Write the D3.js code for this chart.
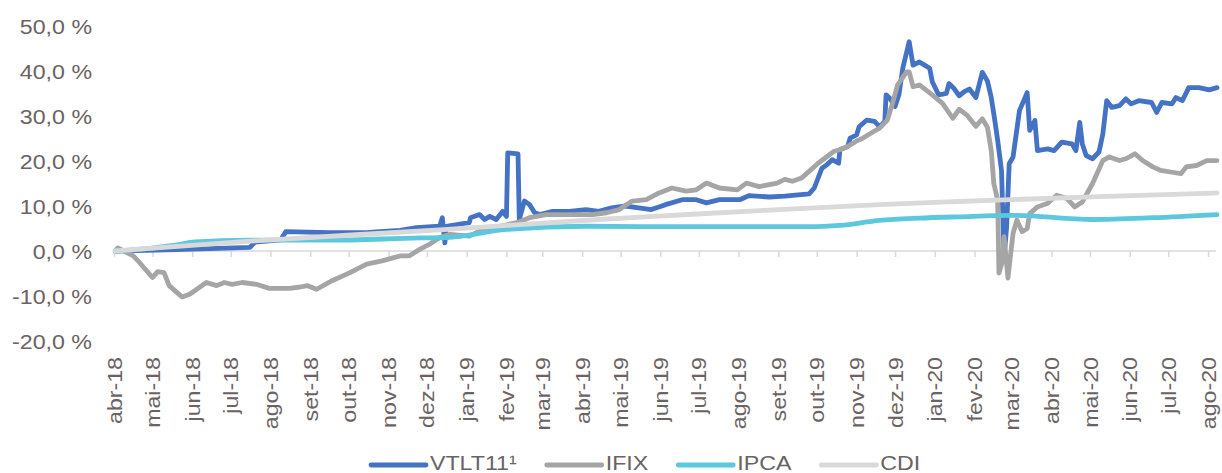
<!DOCTYPE html>
<html>
<head>
<meta charset="utf-8">
<script src="https://cdn.jsdelivr.net/npm/d3@7"></script>
<style>
  html, body { margin: 0; padding: 0; background: #ffffff; }
  svg { display: block; }
</style>
</head>
<body>
<svg id="chart" width="1222" height="473"></svg>
<script>
// ---------- DATA ----------
const seriesNames = ["VTLT11\u00b9", "IFIX", "IPCA", "CDI"];
const tickLabels = ["abr-18","mai-18","jun-18","jul-18","ago-18","set-18","out-18","nov-18","dez-18",
  "jan-19","fev-19","mar-19","abr-19","mai-19","jun-19","jul-19","ago-19","set-19","out-19","nov-19","dez-19",
  "jan-20","fev-20","mar-20","abr-20","mai-20","jun-20","jul-20","ago-20"];
const yTicks = [-20, -10, 0, 10, 20, 30, 40, 50];

const vtltDates = ["2018-04-02","2018-05-20","2018-07-16","2018-07-20","2018-08-09","2018-08-13","2018-09-16","2018-10-15","2018-10-25","2018-11-10","2018-11-23","2018-12-11","2018-12-13","2018-12-15","2018-12-16","2019-01-03","2019-01-04","2019-01-11","2019-01-15","2019-01-19","2019-01-24","2019-01-29","2019-02-01","2019-02-02","2019-02-10","2019-02-11","2019-02-15","2019-02-19","2019-02-23","2019-02-27","2019-03-09","2019-03-22","2019-04-04","2019-04-14","2019-04-24","2019-05-05","2019-05-15","2019-05-25","2019-06-05","2019-06-18","2019-06-29","2019-07-07","2019-07-17","2019-08-02","2019-08-09","2019-08-25","2019-09-06","2019-09-25","2019-09-29","2019-10-05","2019-10-09","2019-10-13","2019-10-18","2019-10-19","2019-10-25","2019-10-27","2019-11-01","2019-11-03","2019-11-09","2019-11-15","2019-11-19","2019-11-23","2019-11-24","2019-11-27","2019-12-01","2019-12-04","2019-12-07","2019-12-12","2019-12-15","2019-12-20","2019-12-24","2019-12-28","2019-12-30","2020-01-04","2020-01-10","2020-01-12","2020-01-16","2020-01-20","2020-01-24","2020-01-28","2020-02-02","2020-02-07","2020-02-11","2020-02-14","2020-02-17","2020-02-19","2020-02-22","2020-02-24","2020-02-26","2020-02-28","2020-03-02","2020-03-07","2020-03-13","2020-03-15","2020-03-19","2020-03-21","2020-03-29","2020-04-03","2020-04-09","2020-04-17","2020-04-20","2020-04-23","2020-04-25","2020-04-28","2020-05-03","2020-05-08","2020-05-11","2020-05-14","2020-05-18","2020-05-24","2020-05-29","2020-06-02","2020-06-08","2020-06-18","2020-06-22","2020-06-26","2020-07-04","2020-07-07","2020-07-12","2020-07-17","2020-07-25","2020-08-02","2020-08-08"];
const vtltValues = [0,0.3,0.8,2.0,2.5,4.3,4.1,4.1,4.3,4.6,5.2,5.5,7.4,1.8,5.5,6.3,7.4,8.1,7.0,7.7,7.0,8.8,7.7,21.8,21.6,7.0,11.1,10.3,8.5,8.1,8.8,8.8,9.2,8.8,9.6,10.0,9.6,9.2,10.3,11.4,11.4,10.7,11.4,11.4,12.3,12.0,12.2,12.7,14.0,18.4,19.2,20.3,19.5,22.5,23.2,25.1,25.8,27.6,29.1,28.8,27.6,28.8,34.7,33.9,32.1,34.7,40.6,46.5,41.3,42.0,41.3,40.6,37.6,34.7,35.0,37.2,36.1,34.5,35.4,36.0,34.1,39.7,37.8,34.1,28.6,24.6,17.9,-1.3,5.4,19.4,20.9,31.2,35.2,26.8,29.0,22.3,22.7,22.3,24.2,23.8,22.3,28.6,23.8,21.2,20.5,22.0,26.0,33.4,31.9,32.3,33.8,32.7,33.4,33.0,30.8,33.0,32.7,34.1,33.4,36.3,36.3,35.8,36.3];

const ifixDates = ["2018-04-02","2018-04-04","2018-04-16","2018-04-21","2018-05-01","2018-05-05","2018-05-10","2018-05-14","2018-05-24","2018-05-30","2018-06-12","2018-06-20","2018-06-26","2018-07-02","2018-07-10","2018-07-21","2018-07-31","2018-08-16","2018-08-24","2018-08-30","2018-09-06","2018-09-18","2018-10-02","2018-10-15","2018-10-27","2018-11-10","2018-11-17","2018-11-25","2018-12-03","2018-12-11","2018-12-19","2019-01-03","2019-01-11","2019-01-27","2019-02-09","2019-02-19","2019-03-04","2019-03-14","2019-03-30","2019-04-09","2019-04-20","2019-04-30","2019-05-10","2019-05-21","2019-05-31","2019-06-10","2019-06-21","2019-06-29","2019-07-07","2019-07-17","2019-07-31","2019-08-07","2019-08-17","2019-08-31","2019-09-06","2019-09-12","2019-09-19","2019-09-25","2019-10-02","2019-10-09","2019-10-14","2019-10-19","2019-10-25","2019-10-31","2019-11-06","2019-11-14","2019-11-19","2019-11-25","2019-11-29","2019-12-03","2019-12-10","2019-12-12","2019-12-15","2019-12-20","2019-12-30","2020-01-07","2020-01-15","2020-01-20","2020-01-26","2020-02-02","2020-02-07","2020-02-11","2020-02-14","2020-02-16","2020-02-19","2020-02-20","2020-02-23","2020-02-24","2020-02-27","2020-03-02","2020-03-05","2020-03-09","2020-03-13","2020-03-15","2020-03-21","2020-03-29","2020-04-05","2020-04-13","2020-04-19","2020-04-25","2020-05-03","2020-05-11","2020-05-16","2020-05-24","2020-05-29","2020-06-05","2020-06-11","2020-06-19","2020-06-25","2020-07-04","2020-07-11","2020-07-15","2020-07-23","2020-07-31","2020-08-08"];
const ifixValues = [0,0.7,-1.1,-2.6,-5.9,-4.6,-4.8,-7.7,-10.2,-9.6,-7.0,-7.7,-7.0,-7.4,-7.0,-7.4,-8.3,-8.3,-8.0,-7.7,-8.5,-6.6,-4.8,-2.9,-2.2,-1.1,-1.1,0.3,1.5,3.0,3.7,3.3,4.4,5.5,6.3,7.4,8.1,8.1,8.1,8.1,8.5,9.2,11.1,11.4,12.9,14.0,13.3,13.6,15.1,14.0,13.6,15.1,14.3,15.1,15.9,15.5,16.2,17.7,19.5,21.0,22.1,22.5,23.2,24.3,25.1,26.5,27.3,29.1,32.8,36.9,39.8,39.8,36.5,36.9,34.7,32.8,29.5,31.5,30.2,27.7,29.4,27.5,22.3,15.0,11.3,-4.9,-2.0,3.2,-6.0,3.9,6.9,4.3,5.0,8.3,9.8,10.6,12.4,11.7,9.8,10.9,15.0,20.1,20.9,20.1,20.5,21.6,20.1,18.7,17.9,17.5,17.2,18.7,19.0,20.1,20.1];

const ipcaDates = ["2018-04-02","2018-04-29","2018-05-19","2018-06-03","2018-07-16","2018-09-16","2018-11-25","2018-12-16","2019-02-01","2019-04-04","2019-06-16","2019-09-25","2019-10-19","2019-11-19","2019-12-20","2020-01-20","2020-03-02","2020-05-03","2020-06-19","2020-08-08"];
const ipcaValues = [0,0.6,1.3,2.0,2.4,2.4,2.9,3.0,4.8,5.5,5.4,5.4,5.7,6.8,7.3,7.6,7.9,7.0,7.4,8.1];

const cdiDates = ["2018-04-02","2018-07-16","2018-12-11","2019-04-14","2019-06-16","2019-08-25","2019-11-19","2020-01-20","2020-05-08","2020-08-08"];
const cdiValues = [0,2.2,4.7,7.0,8.0,9.1,10.3,11.0,12.1,12.9];

// ---------- CHART ----------
const parse = d3.timeParse("%Y-%m-%d");
const svg = d3.select("#chart");
const FONT = "'Liberation Sans', Arial, sans-serif";
const TEXT = "#6b6264";
const STRETCH = 1.16;

const startMonth = parse("2018-04-01");
const tickDates = tickLabels.map((_, i) => d3.timeMonth.offset(startMonth, i));

const x = d3.scaleTime().domain([tickDates[0], tickDates[tickDates.length - 1]]).range([114, 1208]);
const y = d3.scaleLinear().domain([-20, 50]).range([341, 26]);

// x axis (zero line)
const xAxis = d3.axisBottom(x)
  .tickValues(tickDates)
  .tickFormat((d, i) => tickLabels[i])
  .tickSize(6)
  .tickSizeOuter(0)
  .tickPadding(0);
const gx = svg.append("g")
  .attr("transform", `translate(0,${y(0)})`)
  .call(xAxis)
  .attr("font-family", FONT)
  .attr("font-size", 20);
gx.select(".domain").remove();
gx.insert("line", ":first-child")
  .attr("x1", x(tickDates[0])).attr("x2", 1216)
  .attr("y1", 0).attr("y2", 0)
  .attr("stroke", "#d9d9d9").attr("stroke-width", 1.5);
gx.selectAll(".tick line").attr("stroke", "#d9d9d9").attr("stroke-width", 1.5);
gx.selectAll(".tick text")
  .attr("x", null).attr("y", null)
  .attr("dy", "0.35em")
  .attr("fill", TEXT)
  .attr("text-anchor", "end")
  .attr("transform", `translate(0,${357 - y(0)}) rotate(-90) scale(${STRETCH},1)`);

// y axis labels
const yAxis = d3.axisLeft(y)
  .tickValues(yTicks)
  .tickFormat(d => d3.format(".1f")(d).replace("\u2212", "-").replace(".", ",") + " %")
  .tickSize(0)
  .tickPadding(0);
const gy = svg.append("g")
  .attr("transform", "translate(92,0)")
  .call(yAxis)
  .attr("font-family", FONT)
  .attr("font-size", 20);
gy.select(".domain").remove();
gy.selectAll(".tick text")
  .attr("fill", TEXT)
  .attr("dy", "0.35em")
  .attr("transform", `scale(${STRETCH},1)`);

// lines
const series = [
  { name: seriesNames[0], dates: vtltDates, values: vtltValues, color: "#4472c4", width: 4.8, curve: d3.curveLinear },
  { name: seriesNames[1], dates: ifixDates, values: ifixValues, color: "#a5a5a5", width: 4.8, curve: d3.curveLinear },
  { name: seriesNames[2], dates: ipcaDates, values: ipcaValues, color: "#5bc8de", width: 4.8, curve: d3.curveMonotoneX },
  { name: seriesNames[3], dates: cdiDates, values: cdiValues, color: "#d9d9d9", width: 4.8, curve: d3.curveMonotoneX }
];

series.forEach(s => {
  const pts = s.dates.map((d, i) => [parse(d), s.values[i]]);
  const line = d3.line().x(p => x(p[0])).y(p => y(p[1])).curve(s.curve);
  svg.append("path")
    .datum(pts)
    .attr("d", line)
    .attr("fill", "none")
    .attr("stroke", s.color)
    .attr("stroke-width", s.width)
    .attr("stroke-linejoin", "round")
    .attr("stroke-linecap", "round");
});

// legend
const legend = svg.append("g").attr("font-family", FONT).attr("font-size", 20);
let lx = 371;
const ly = 465;
series.forEach(s => {
  legend.append("line")
    .attr("x1", lx).attr("x2", lx + 55)
    .attr("y1", ly).attr("y2", ly)
    .attr("stroke", s.color).attr("stroke-width", 4.8)
    .attr("stroke-linecap", "round");
  const tx = lx + 59;
  const t = legend.append("text")
    .attr("x", 0).attr("y", 0)
    .attr("dy", "0.35em")
    .attr("fill", TEXT)
    .attr("transform", `translate(${tx},${ly - 2.5}) scale(${STRETCH},1)`)
    .text(s.name);
  const w = t.node().getComputedTextLength() * STRETCH;
  lx = tx + w + 30;
});
</script>
</body>
</html>
